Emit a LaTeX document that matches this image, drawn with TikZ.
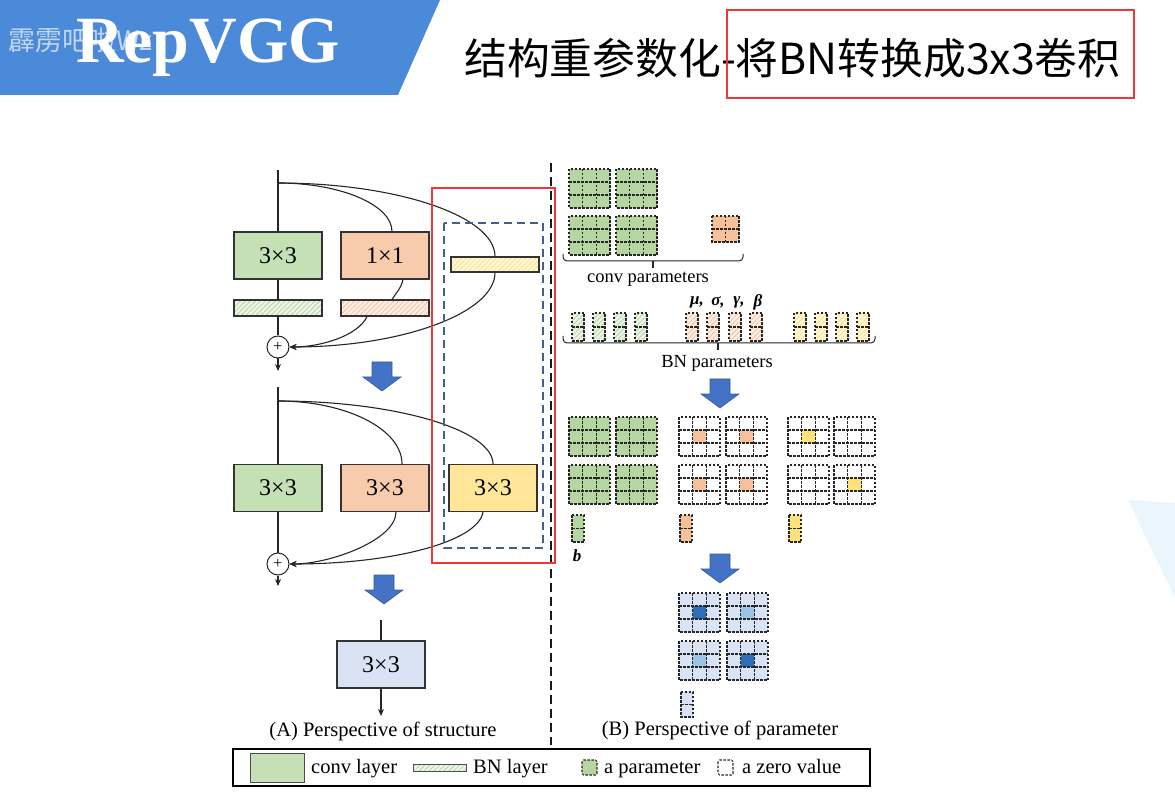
\documentclass[tikz,border=0pt]{standalone}
\usepackage{fontspec}
\setmainfont{Liberation Serif}
\newfontfamily\cjk{Noto Sans CJK SC}
\usetikzlibrary{arrows.meta,patterns.meta,calc}

\definecolor{banner}{RGB}{75,138,216}
\definecolor{convgreen}{RGB}{197,224,180}
\definecolor{convorange}{RGB}{248,203,173}
\definecolor{convyellow}{RGB}{255,230,153}
\definecolor{convblue}{RGB}{218,227,243}
\definecolor{gridgreen}{RGB}{181,214,160}
\definecolor{gridorange}{RGB}{247,192,156}
\definecolor{gridyellow}{RGB}{255,225,122}
\definecolor{darkparam}{RGB}{46,110,185}
\definecolor{midparam}{RGB}{157,195,230}
\definecolor{arrowblue}{RGB}{68,114,196}
\definecolor{framered}{RGB}{238,56,56}
\definecolor{dashblue}{RGB}{68,96,138}
\definecolor{haze}{RGB}{234,245,253}

\tikzset{
  layer/.style={draw=black!80, line width=1.1pt, minimum width=88pt,
    minimum height=47pt, inner sep=0pt, font=\fontsize{24}{26}\selectfont},
  bnbar/.style={draw=black!80, line width=1.1pt, minimum width=88pt,
    minimum height=16pt, inner sep=0pt},
  hatch/.style={preaction={fill=#1!25},
    pattern={Lines[angle=45,distance=3.5pt,line width=0.8pt]}, pattern color=#1},
  sumnode/.style={circle, draw=black!85, line width=1pt, minimum size=22pt,
    inner sep=0pt, fill=white, font=\fontsize{16}{16}\selectfont},
  flow/.style={line width=1.1pt, draw=black!85},
  flowarrow/.style={flow, -{Stealth[length=7pt,width=6pt]}},
  gridline/.style={draw=black!85, line width=1.05pt, dash pattern=on 2.5pt off 1.5pt},
  caption/.style={font=\fontsize{20.5}{22}\selectfont},
  label/.style={font=\fontsize{18.5}{20}\selectfont},
  greek/.style={font=\fontsize{17}{18}\selectfont\bfseries\itshape},
  pics/downarrow/.style={code={
    \fill[arrowblue, draw=arrowblue!80!black, line width=0.6pt]
      (-10,0) -- (10,0) -- (10,15) -- (19,15) -- (0,29) -- (-19,15) -- (-10,15) -- cycle;}}
}

% 3x3 kernel: #1,#2 top-left corner, #3 cell colour, #4 colour of the middle cell
\newcommand\paramgrid[4]{%
  \path[fill=#3] (#1,#2) rectangle ++(41,39);
  \path[fill=#4] (#1+13.67,#2+13) rectangle ++(13.67,13);
  \draw[gridline] (#1,#2) rectangle ++(41,39)
    (#1+13.67,#2) -- ++(0,39) (#1+27.33,#2) -- ++(0,39)
    (#1,#2+13) -- ++(41,0) (#1,#2+26) -- ++(41,0);
}
% a column of two values (bias / BN statistics): #1,#2 top-left, #3 fill options, #4 height
\newcommand\paramcol[4]{%
  \path[#3] (#1,#2) rectangle ++(12,#4);
  \draw[gridline] (#1,#2) rectangle ++(12,#4) (#1,#2+#4/2) -- ++(12,0);
}

\begin{document}
\begin{tikzpicture}[x=1pt,y=-1pt]
\useasboundingbox (0,0) rectangle (1175,799);
\fill[white] (0,0) rectangle (1175,799);

% ---------- header ----------
\fill[banner] (0,0) -- (440,0) -- (398,95) -- (0,95) -- cycle;
\node[anchor=west, text=white, opacity=0.65, inner sep=0pt, font=\cjk\fontsize{27}{29}\selectfont]
  (mark) at (8,40) {霹雳吧啦Wz};
\node[anchor=base, text=white, font=\fontsize{66}{68}\selectfont\bfseries]
  (head) at (208,63) {RepVGG};
\node[anchor=west, inner sep=0pt, font=\cjk\fontsize{42.8}{46}\selectfont]
  (title) at (464,58) {结构重参数化-将BN转换成3x3卷积};
\draw[framered, line width=2.5pt] (727,10) rectangle (1134,98);

% faint corner decoration
\fill[haze] (1128,500) -- (1175,503) -- (1175,598) -- cycle;

% ---------- (A) structure: training-time block ----------
\coordinate (in1) at (278,170);
\coordinate (j1) at (278,183);
\coordinate (out1) at (278,371);
\node[layer, fill=convgreen] (g1) at (278,255.5) {3×3};
\node[layer, fill=convorange] (o1) at (385,255.5) {1×1};
\node[bnbar, hatch=gridgreen] (gb) at (278,308) {};
\node[bnbar, hatch=gridorange] (ob) at (385,308) {};
\node[bnbar, hatch=gridyellow, minimum height=15pt] (yb) at (495,264.5) {};
\node[sumnode] (s1) at (278,347) {+};

\draw[flow] (in1) -- (g1.north);
\draw[flow] (g1.south) -- (gb.north);
\draw[flow] (gb.south) -- (s1.north);
\draw[flowarrow] (s1.south) -- (out1);
\draw[flow] (j1) .. controls (341,183) and (392,205) .. ([xshift=7pt]o1.north);
\draw[flow] (j1) .. controls (397,183) and (495,216) .. (yb.north);
\draw[flow] ([xshift=18pt]o1.south) .. controls (401,289) and (395,294) .. ([xshift=7pt]ob.north);
\draw[flowarrow] ([xshift=-18pt]ob.south) .. controls (358,336) and (320,347) .. (s1.east);
\draw[flowarrow] (yb.south) .. controls (495,313) and (402,347) .. (s1.east);

\pic at (382,362) {downarrow};

% ---------- (A) structure: after BN fusion ----------
\coordinate (in2) at (278,387);
\coordinate (j2) at (278,401);
\coordinate (out2) at (278,586);
\node[layer, fill=convgreen] (g2) at (278,488) {3×3};
\node[layer, fill=convorange] (o2) at (385,488) {3×3};
\node[layer, fill=convyellow] (y2) at (493,488) {3×3};
\node[sumnode] (s2) at (278,564) {+};

\draw[flow] (in2) -- (g2.north);
\draw[flow] (g2.south) -- (s2.north);
\draw[flowarrow] (s2.south) -- (out2);
\draw[flow] (j2) .. controls (346,401) and (402,429) .. ([xshift=17pt]o2.north);
\draw[flow] (j2) .. controls (396,401) and (493,430) .. (y2.north);
\draw[flowarrow] ([xshift=11pt]o2.south) .. controls (396,540) and (330,564) .. (s2.east);
\draw[flowarrow] ([xshift=-10pt]y2.south) .. controls (478,542) and (392,564) .. (s2.east);

\draw[dashblue, line width=1.8pt, dash pattern=on 8pt off 5pt] (444,223) rectangle (543,548);

\pic at (384,575) {downarrow};

% ---------- (A) structure: single 3x3 ----------
\coordinate (in3) at (381,620);
\coordinate (out3) at (381,716);
\node[layer, fill=convblue] (b3) at (381,664.5) {3×3};
\draw[flow] (in3) -- (b3.north);
\draw[flowarrow] (b3.south) -- (out3);

\node[caption, anchor=base] (capA) at (383,736) {(A) Perspective of structure};

% divider between the two views
\draw[black!90, line width=2.2pt, dash pattern=on 9pt off 5pt] (551,163) -- (551,745);

% ---------- (B) parameters: conv kernels ----------
\paramgrid{569}{169}{gridgreen}{gridgreen}
\paramgrid{616}{169}{gridgreen}{gridgreen}
\paramgrid{569}{216}{gridgreen}{gridgreen}
\paramgrid{616}{216}{gridgreen}{gridgreen}
\fill[gridorange] (712,216) rectangle ++(27,26);
\draw[gridline] (712,216) rectangle ++(27,26) (725.5,216) -- ++(0,26) (712,229) -- ++(27,0);

\draw[black!85, line width=1pt, rounded corners=4pt] (563,254) |- (653,261) -| (743,254);
\draw[black!85, line width=2pt] (653,261) -- (653,268);
\node[label, anchor=base] (convlbl) at (648,283) {conv parameters};

% BN statistics
\foreach \x in {572,593,614,635} {\paramcol{\x}{313}{hatch=gridgreen}{28}}
\foreach \x in {686,707,729,750} {\paramcol{\x}{313}{hatch=gridorange}{28}}
\foreach \x in {794,815,836,857} {\paramcol{\x}{313}{hatch=gridyellow}{28}}
\node[greek] (mu) at (697,302) {μ,};
\node[greek] (sigma) at (718,302) {σ,};
\node[greek] (gamma) at (739,302) {γ,};
\node[greek] (beta) at (758,302) {β};

\draw[black!85, line width=1pt, rounded corners=4pt] (563,336) |- (718,343) -| (875,336);
\draw[black!85, line width=2pt] (718,343) -- (718,350);
\node[label, anchor=base] (bnlbl) at (717,368) {BN parameters};

\pic at (720,379) {downarrow};

% ---------- (B) parameters: equivalent 3x3 kernels ----------
\paramgrid{569}{417}{gridgreen}{gridgreen}
\paramgrid{616}{417}{gridgreen}{gridgreen}
\paramgrid{569}{465}{gridgreen}{gridgreen}
\paramgrid{616}{465}{gridgreen}{gridgreen}
\paramgrid{679}{417}{white}{gridorange}
\paramgrid{726}{417}{white}{gridorange}
\paramgrid{679}{465}{white}{gridorange}
\paramgrid{726}{465}{white}{gridorange}
\paramgrid{788}{417}{white}{gridyellow}
\paramgrid{834}{417}{white}{white}
\paramgrid{788}{465}{white}{white}
\paramgrid{834}{465}{white}{gridyellow}
\paramcol{572}{515}{fill=gridgreen}{27}
\paramcol{680}{515}{fill=gridorange}{27}
\paramcol{789}{515}{fill=gridyellow}{27}
\node[greek] (bias) at (577,556) {b};

\pic at (720,554) {downarrow};

% ---------- (B) parameters: merged kernel ----------
\paramgrid{679}{593}{convblue}{darkparam}
\paramgrid{727}{593}{convblue}{midparam}
\paramgrid{679}{641}{convblue}{midparam}
\paramgrid{727}{641}{convblue}{darkparam}
\paramcol{681}{692}{fill=convblue}{25}

\node[caption, anchor=base] (capB) at (720,735) {(B) Perspective of parameter};

% ---------- legend ----------
\draw[black, line width=2.6pt] (233,749) rectangle (870,786);
\draw[black!70, line width=1pt, fill=convgreen] (250,753) rectangle (304,782);
\node[caption, anchor=base west, inner sep=0pt] (lconv) at (311,773) {conv layer};
\draw[black!70, line width=0.9pt, hatch=gridgreen] (413,764) rectangle (466,771);
\node[caption, anchor=base west, inner sep=0pt] (lbn) at (473,773) {BN layer};
\draw[gridline, fill=gridgreen, rounded corners=1.5pt] (582,760) rectangle (597,775);
\node[caption, anchor=base west, inner sep=0pt] (lpar) at (604,773) {a parameter};
\draw[gridline, rounded corners=1.5pt] (718,760) rectangle (733,775);
\node[caption, anchor=base west, inner sep=0pt] (lzero) at (742,773) {a zero value};

% overlaid highlight frame
\draw[framered, line width=2.5pt] (432,188) rectangle (555,563);
\end{tikzpicture}
\end{document}
